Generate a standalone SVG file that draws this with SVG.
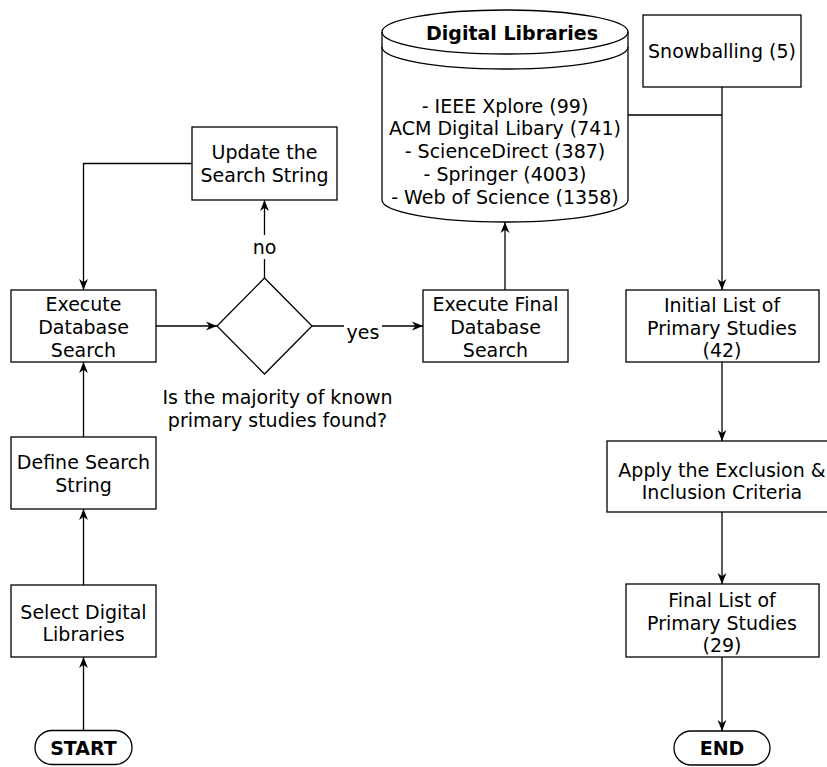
<svg xmlns="http://www.w3.org/2000/svg" width="827" height="767" viewBox="0 0 827 767">
<defs>
<marker id="arr" viewBox="0 0 10 10" refX="10" refY="5" markerWidth="11" markerHeight="11" markerUnits="userSpaceOnUse" orient="auto">
<path d="M0,1 L10,5 L0,9 L3,5 Z" fill="#000"/>
</marker>
<style>
.box{fill:#fff;stroke:#000;stroke-width:1.3}
.t{font-family:"DejaVu Sans",Verdana,sans-serif;font-size:19px;fill:#000;text-anchor:middle}
.b{font-weight:bold}
.e{fill:none;stroke:#000;stroke-width:1.3}
.lbl{fill:#fff}
</style>
</defs>
<rect width="827" height="767" fill="#fff"/>
<g id="connectors">
<path class="e" d="M83.5,730 L83.5,657" marker-end="url(#arr)"/>
<path class="e" d="M83.5,585 L83.5,509" marker-end="url(#arr)"/>
<path class="e" d="M83.5,437 L83.5,362" marker-end="url(#arr)"/>
<path class="e" d="M156,326 L217,326" marker-end="url(#arr)"/>
<path class="e" d="M264.5,278 L264.5,200" marker-end="url(#arr)"/>
<path class="e" d="M192,163.5 L83.5,163.5 L83.5,290" marker-end="url(#arr)"/>
<path class="e" d="M312,326 L423,326" marker-end="url(#arr)"/>
<path class="e" d="M505,290 L505,222" marker-end="url(#arr)"/>
<path class="e" d="M628,115 L722,115"/>
<path class="e" d="M722,87 L722,290" marker-end="url(#arr)"/>
<path class="e" d="M722,362 L722,441" marker-end="url(#arr)"/>
<path class="e" d="M722,512 L722,584" marker-end="url(#arr)"/>
<path class="e" d="M722,657 L722,731" marker-end="url(#arr)"/>
<rect class="lbl" x="250" y="235" width="29" height="24"/>
<text class="t" x="264.5" y="254">no</text>
<rect class="lbl" x="344" y="320" width="38" height="24"/>
<text class="t" x="363" y="339">yes</text>
</g>
<g id="start">
<rect class="box" x="35" y="730.5" width="97" height="34" rx="17"/>
<text class="t b" x="83.5" y="755">START</text>
</g>
<g id="select">
<rect class="box" x="11" y="585" width="145" height="72"/>
<text class="t" x="83.5" y="619">Select Digital</text>
<text class="t" x="83.5" y="641">Libraries</text>
</g>
<g id="define">
<rect class="box" x="11" y="437" width="145" height="72"/>
<text class="t" x="83.5" y="469">Define Search</text>
<text class="t" x="83.5" y="492">String</text>
</g>
<g id="execdb">
<rect class="box" x="11" y="290" width="145" height="72"/>
<text class="t" x="83.5" y="311">Execute</text>
<text class="t" x="83.5" y="334">Database</text>
<text class="t" x="83.5" y="357">Search</text>
</g>
<g id="update">
<rect class="box" x="192" y="127" width="145" height="73"/>
<text class="t" x="264.5" y="159">Update the</text>
<text class="t" x="264.5" y="182">Search String</text>
</g>
<g id="decision">
<path class="box" d="M264.5,278 L312,326 L264.5,374 L217,326 Z"/>
<text class="t" x="277.5" y="404">Is the majority of known</text>
<text class="t" x="277.5" y="427">primary studies found?</text>
</g>
<g id="execfinal">
<rect class="box" x="423" y="290" width="145" height="72"/>
<text class="t" x="495.5" y="311">Execute Final</text>
<text class="t" x="495.5" y="334">Database</text>
<text class="t" x="495.5" y="357">Search</text>
</g>
<g id="digitallibraries">
<path class="box" d="M382,32 A123,22 0 0 1 628,32 L628,200 A123,22 0 0 1 382,200 Z"/>
<path class="e" d="M382,32 A123,22 0 0 0 628,32"/>
<path class="e" d="M382,47 A123,22 0 0 0 628,47"/>
<text class="t b" x="512" y="40">Digital Libraries</text>
<text class="t" x="505" y="113">- IEEE Xplore (99)</text>
<text class="t" x="505" y="135">ACM Digital Libary (741)</text>
<text class="t" x="505" y="158">- ScienceDirect (387)</text>
<text class="t" x="505" y="181">- Springer (4003)</text>
<text class="t" x="505" y="204">- Web of Science (1358)</text>
</g>
<g id="snowballing">
<rect class="box" x="643" y="15" width="158" height="72"/>
<text class="t" x="722" y="58">Snowballing (5)</text>
</g>
<g id="initial">
<rect class="box" x="626" y="290" width="193" height="72"/>
<text class="t" x="722" y="312">Initial List of</text>
<text class="t" x="722" y="335">Primary Studies</text>
<text class="t" x="722" y="357">(42)</text>
</g>
<g id="apply">
<rect class="box" x="607" y="441" width="230" height="71"/>
<text class="t" x="722" y="477">Apply the Exclusion &amp;</text>
<text class="t" x="722" y="499">Inclusion Criteria</text>
</g>
<g id="final">
<rect class="box" x="626" y="584" width="193" height="73"/>
<text class="t" x="722" y="607">Final List of</text>
<text class="t" x="722" y="630">Primary Studies</text>
<text class="t" x="722" y="652">(29)</text>
</g>
<g id="end">
<rect class="box" x="674" y="731" width="96" height="34" rx="17"/>
<text class="t b" x="722" y="755">END</text>
</g>
</svg>
